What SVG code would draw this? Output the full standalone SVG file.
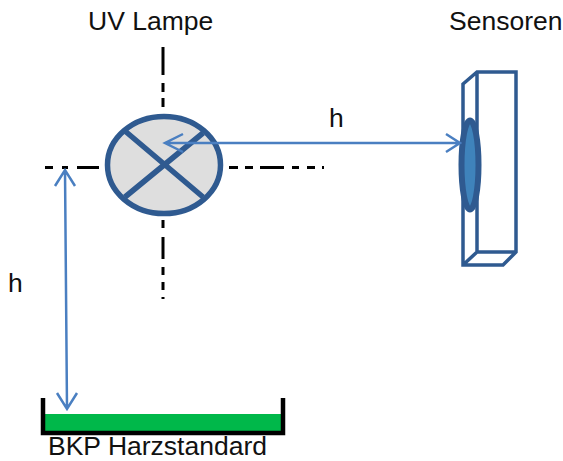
<svg xmlns="http://www.w3.org/2000/svg" width="563" height="461" viewBox="0 0 563 461">
<style>
text{font-family:"Liberation Sans",Arial,sans-serif;font-size:26.500px;fill:#111}
.axis{fill:none;stroke:#000;stroke-width:3}
.dark{fill:none;stroke:#2f5a90;stroke-width:3.500;stroke-linejoin:miter}
.dim{fill:none;stroke:#4a7fc1;stroke-width:2.500}
</style>
<rect width="563" height="461" fill="#fff"/>
<g id="lamp">
<path class="axis" d="M163 47V75M163 83V92M163 98V107M163 220V228M163 237V259M163 267V275M163 282V290M163 297V299M45 167.500H53M62 167.500H68M77 167.500H99M229 167.500H238M245 167.500H253M260 167.500H284M292 167.500H299M307 167.500H315M322 167.500H324"/>
<ellipse cx="164" cy="165" rx="56.500" ry="48.500" fill="#dedede" stroke="#2f5a90" stroke-width="5.500"/>
<path d="M125 131L203 197M203 133L125 197" fill="none" stroke="#2f5a90" stroke-width="5.500"/>
<text x="88" y="30">UV Lampe</text>
</g>
<g id="sensor">
<path class="dark" d="M463 84L477 72H516V252L503 265H463ZM477 72V252H516M477 252L463 265"/>
<ellipse cx="470" cy="165" rx="8.500" ry="44.500" fill="#3f83bb" stroke="#2f5a90" stroke-width="6"/>
<text x="449" y="30">Sensoren</text>
</g>
<g id="tray">
<rect x="44" y="414" width="237" height="18" fill="#00b84a"/>
<path d="M43 398V433H283V398" fill="none" stroke="#000" stroke-width="4.500"/>
<text x="48" y="455">BKP Harzstandard</text>
</g>
<g id="connectors">
<path class="dim" d="M165 143H458M183 134L165 143L183 152M446 134L460 143L446 152"/>
<path class="dim" d="M65 170L67 408M55 186L65 170L75 186M57 393L67 409L77 393"/>
</g>
<text id="label-h-top" x="329" y="127">h</text>
<text id="label-h-left" x="8" y="292">h</text>
</svg>
